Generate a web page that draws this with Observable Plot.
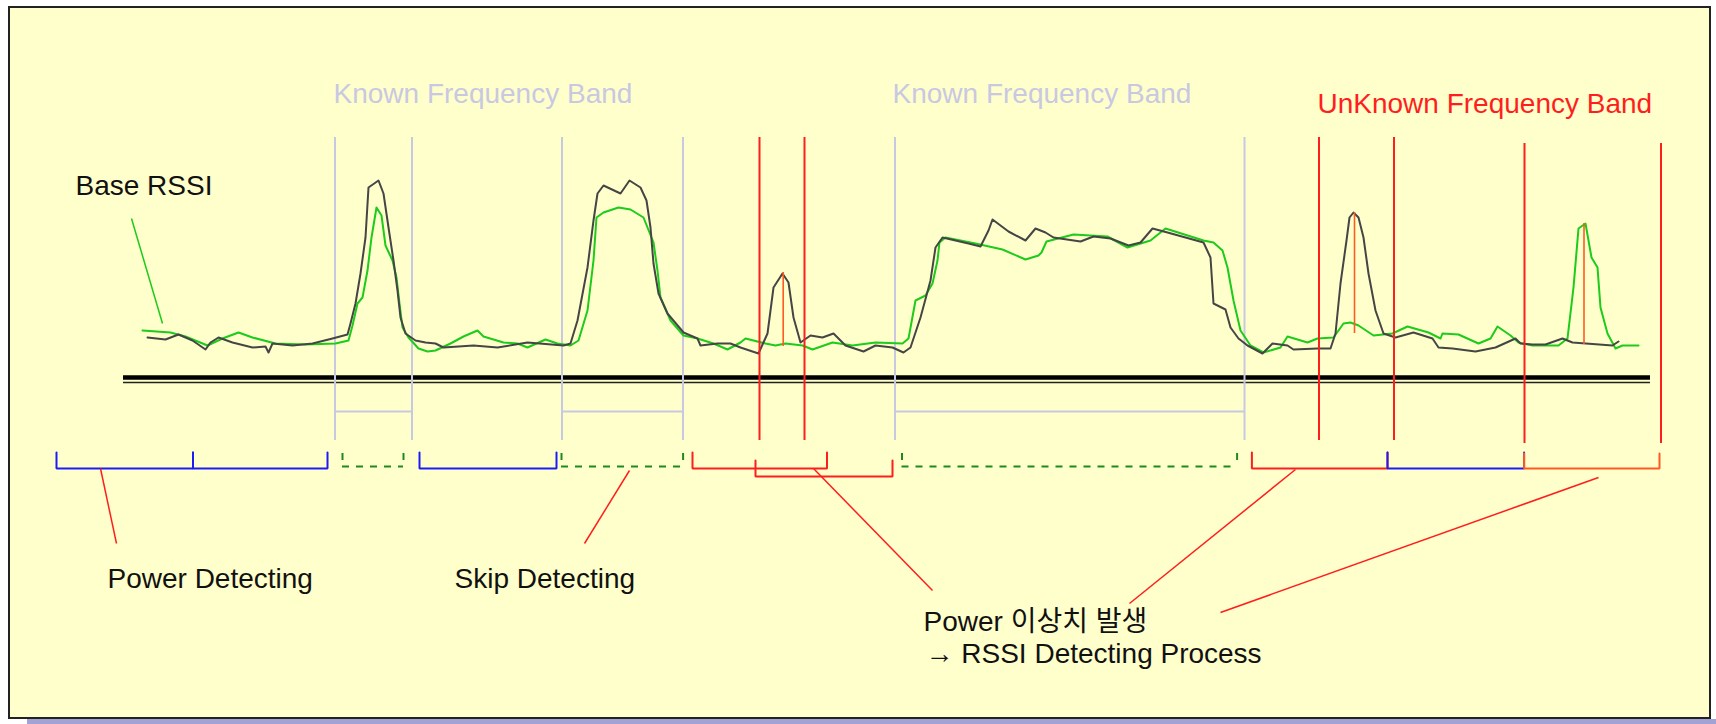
<!DOCTYPE html>
<html><head><meta charset="utf-8">
<script src="https://cdn.jsdelivr.net/npm/d3@7"></script>
<script src="https://cdn.jsdelivr.net/npm/@observablehq/plot@0.6"></script>
<style>html,body{margin:0;padding:0;background:#fff;overflow:hidden}</style>
</head><body><div id="chart"></div>
<script>
// ---- Data (x = frequency position, level = RSSI height above the noise baseline) ----
// Base RSSI (green)
const baseX = [142,170,185,207,222,238,252,275,305,335,348,352,357,362,367,371,376,381,385,392,396,399,402,408,418,427,435,450,463,477,483,503,517,527,545,557,570,578,587,593,596,603,618,630,643,653,657,660,670,683,697,713,727,740,745,765,775,785,802,812,832,852,875,902,908,915,925,932,937,939,945,975,1002,1025,1038,1041,1046,1073,1107,1127,1150,1165,1203,1213,1222,1227,1233,1240,1250,1263,1280,1287,1307,1317,1333,1343,1350,1358,1373,1392,1407,1428,1440,1442,1458,1478,1490,1497,1510,1518,1532,1558,1567,1573,1578,1585,1591,1597,1600,1607,1615,1622,1638];
const baseLevel = [48,46,42,33,40,46,41,35,34,35,38,53,75,81,108,141,171,163,133,118,101,75,51,41,30,27,28,35,42,48,42,36,35,31,39,35,33,38,68,118,161,166,171,169,161,136,108,81,58,43,40,35,29,36,40,35,33,35,33,29,36,33,36,35,40,78,83,95,118,136,141,135,129,119,123,126,137,144,142,131,138,150,138,136,128,111,78,48,33,26,31,42,36,40,41,55,56,53,43,45,52,46,40,45,44,35,40,52,43,36,33,33,40,91,150,155,121,111,71,45,30,33,33];
// Measured RSSI (dark)
const measX = [147,165,178,192,205,210,218,232,252,265,268,272,292,312,332,347,350,355,360,365,368,378,383,388,393,397,400,405,415,425,435,443,473,497,527,563,570,577,587,593,597,603,620,629,640,646,650,653,658,667,683,697,700,717,730,740,758,767,773,782,788,793,800,810,822,833,845,863,875,892,903,910,920,930,935,942,968,980,988,992,1008,1025,1035,1045,1053,1080,1093,1110,1128,1140,1152,1167,1203,1210,1213,1225,1230,1238,1247,1262,1272,1287,1293,1317,1330,1335,1340,1346,1349,1353,1358,1363,1368,1375,1383,1395,1413,1432,1438,1452,1475,1495,1515,1520,1532,1545,1562,1572,1612,1618];
const measLevel = [41,39,44,38,29,36,41,36,31,32,26,35,33,35,40,44,55,75,105,141,191,198,185,151,118,88,61,45,38,36,35,31,33,31,36,33,35,58,111,158,185,193,185,198,191,178,151,115,85,65,46,40,33,35,35,31,25,45,91,105,96,61,36,43,41,45,33,27,33,31,26,31,61,98,131,141,135,132,148,159,147,138,150,146,141,137,142,140,133,136,150,146,136,121,75,69,51,40,33,25,35,33,29,30,30,45,95,138,161,166,161,141,105,68,45,41,46,40,31,30,27,31,40,35,34,34,40,36,33,37];

// Band edges
const knownEdges = [334.5, 411.5, 561.5, 682.5, 894.5, 1244];
const knownBands = [[334.5, 411.5], [561.5, 682.5], [894.5, 1244]];
const unknownEdges = [759, 804, 1318.5, 1393.5];
const unknownEdgesLate = [1524, 1660.5];
// Peak positions found by RSSI detecting: [x, peak level]
const peakX = [782.7, 1354, 1583.5];
const peakTop = [106, 166, 155];
const peakBottom = [32, 45, 34];

// Detection process spans
const spanFrom = [56, 192.5, 342, 419, 561, 692, 755, 901.5, 1251.4, 1387, 1523.6];
const spanTo   = [192.5, 327, 403, 556, 682.6, 826.5, 892, 1236.6, 1387, 1523.6, 1659];
const spanKind = ["power","power","skip","power","skip","anomaly","anomalyLow","skip","anomaly","power","rssi"];

// Labels
const labelText = ["Known Frequency Band","Known Frequency Band","UnKnown Frequency Band","Base RSSI","Power Detecting","Skip Detecting","Power 이상치 발생","→ RSSI Detecting Process"];
const labelX = [333, 892, 1317, 75, 107, 454, 923, 925];
const labelLevel = [276, 276, 266, 184, -209, -209, -252, -284];
const labelKind = ["known","known","unknown","plain","plain","plain","plain","plain"];

// Leader lines: from, to
const leaderFrom = [[131,160],[100,-90],[629,-92],[813,-90],[1295,-91],[1598,-99]];
const leaderTo   = [[162,55],[116,-165],[584,-165],[932,-212],[1129,-225],[1220,-234]];
const leaderKind = ["base","red","red","red","red","red"];

// ---- Styles ----
const LAV = "#C8C8E2", RED = "#FF1E1E", GREEN = "#1CCB1C", DARK = "#454545", BLUE = "#1C1CF5", DGREEN = "#1E8A1E", ORANGE = "#FF5A22";
const baselineLevel = 1, baselineLevel2 = -4;
const edgeTop = 241, edgeBottom = -62, lateTop = 235, lateBottom = -65, connector = -33;

const kindStyle = {
  power: {c: BLUE, line: -90, tick: -74},
  anomaly: {c: RED, line: -90, tick: -74},
  anomalyLow: {c: RED, line: -98, tick: -82},
  rssi: {c: ORANGE, line: -90, tick: -75}
};
const spans = spanFrom.map((f, i) => ({from: f, to: spanTo[i], kind: spanKind[i]}));
const bracketPts = [];
const drawOrder = ["anomaly","anomalyLow","power","rssi"];
drawOrder.forEach(k => spans.filter(s => s.kind === k).forEach((s, j) => {
  const st = kindStyle[k], id = k + j;
  bracketPts.push({id, k, x: s.from, y: st.tick}, {id, k, x: s.from, y: st.line}, {id, k, x: s.to, y: st.line}, {id, k, x: s.to, y: st.tick});
}));
const skipSpans = spans.filter(s => s.kind === "skip");
const skipTicks = skipSpans.flatMap(s => [s.from, s.to]);

const baseData = baseX.map((x, i) => ({x, y: baseLevel[i]}));
const measData = measX.map((x, i) => ({x, y: measLevel[i]}));
const labels = labelText.map((t, i) => ({t, x: labelX[i], y: labelLevel[i], k: labelKind[i]}));
const leaders = leaderFrom.map((f, i) => ({x1: f[0], y1: f[1], x2: leaderTo[i][0], y2: leaderTo[i][1], k: leaderKind[i]}));
const labelColor = {known: LAV, unknown: RED, plain: "#111"};

const chart = Plot.plot({
  width: 1716, height: 724, margin: 0,
  x: {domain: [0, 1716], axis: null},
  y: {domain: [-346, 378], axis: null},
  style: {background: "#fff", fontFamily: "'Liberation Sans','Noto Sans CJK KR',sans-serif"},
  marks: [
    Plot.rect([{}], {x1: 27, x2: 1716, y1: -341, y2: -346, fill: "#A2A2D4"}),
    Plot.rect([{}], {x1: 9, x2: 1710, y1: 371, y2: -340, fill: "#FFFFCC", stroke: "#222", strokeWidth: 2}),
    Plot.ruleY([baselineLevel], {x1: 123, x2: 1650, stroke: "#000", strokeWidth: 4.5}),
    Plot.ruleY([baselineLevel2], {x1: 123, x2: 1650, stroke: "#222", strokeWidth: 1.6}),
    Plot.ruleX(knownEdges, {y1: edgeTop, y2: edgeBottom, stroke: LAV, strokeWidth: 2}),
    Plot.ruleY(knownBands, {y: () => connector, x1: d => d[0], x2: d => d[1], stroke: LAV, strokeWidth: 2}),
    Plot.line(baseData, {x: "x", y: "y", stroke: GREEN, strokeWidth: 2, curve: "linear"}),
    Plot.line(measData, {x: "x", y: "y", stroke: DARK, strokeWidth: 2, curve: "linear"}),
    Plot.ruleX(unknownEdges, {y1: edgeTop, y2: edgeBottom, stroke: RED, strokeWidth: 2}),
    Plot.ruleX(unknownEdgesLate, {y1: lateTop, y2: lateBottom, stroke: RED, strokeWidth: 2}),
    Plot.ruleX(peakX, {x: d => d, y1: (d, i) => peakTop[i], y2: (d, i) => peakBottom[i], stroke: ORANGE, strokeWidth: 1.6}),
    Plot.ruleY(skipSpans, {y: () => -88, x1: "from", x2: "to", stroke: DGREEN, strokeWidth: 2, strokeDasharray: "7,7"}),
    Plot.ruleX(skipTicks, {y1: -75, y2: -82, stroke: DGREEN, strokeWidth: 2}),
    Plot.line(bracketPts, {x: "x", y: "y", z: "id", stroke: d => kindStyle[d.k].c, strokeWidth: 2, strokeLinejoin: "miter"}),
    Plot.link(leaders, {x1: "x1", y1: "y1", x2: "x2", y2: "y2", stroke: d => d.k === "base" ? GREEN : RED, strokeWidth: 1.5}),
    Plot.text(labels, {x: "x", y: "y", text: "t", textAnchor: "start", lineAnchor: "bottom", fontSize: 28, fill: d => labelColor[d.k]})
  ]
});
document.getElementById("chart").append(chart);
</script>
</body></html>
